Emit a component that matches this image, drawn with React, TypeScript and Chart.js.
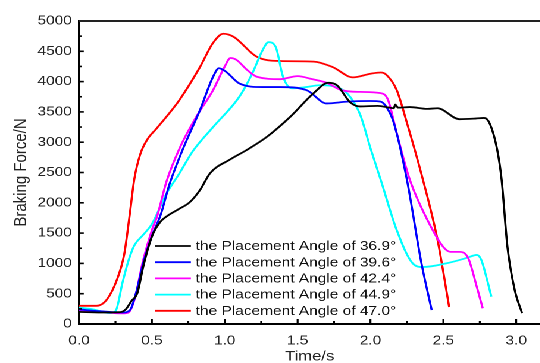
import { useEffect, useRef } from 'react';
import { Chart, registerables } from 'chart.js';

Chart.register(...registerables);

// ---- data ----
const seriesLabels = [
  'the Placement Angle of 36.9°',
  'the Placement Angle of 39.6°',
  'the Placement Angle of 42.4°',
  'the Placement Angle of 44.9°',
  'the Placement Angle of 47.0°',
];
const seriesColors = ['#000000', '#0000ff', '#ff00ff', '#00ffff', '#ff0000'];

const t369 = [0, 0.15, 0.28, 0.32, 0.36, 0.4, 0.44, 0.48, 0.51, 0.556, 0.61, 0.68, 0.76, 0.83, 0.9, 1.04, 1.15, 1.29, 1.45, 1.61, 1.71, 1.77, 1.86, 1.93, 2.05, 2.13, 2.16, 2.17, 2.19, 2.27, 2.39, 2.46, 2.61, 2.72, 2.78, 2.82, 2.87, 2.9, 2.94, 2.99, 3.04];
const f369 = [200, 190, 195, 240, 380, 510, 940, 1300, 1500, 1680, 1790, 1890, 2010, 2210, 2490, 2720, 2870, 3090, 3420, 3810, 3980, 3940, 3660, 3590, 3600, 3570, 3560, 3620, 3570, 3580, 3550, 3560, 3380, 3390, 3400, 3300, 2870, 2380, 1270, 560, 180];

const t396 = [0, 0.15, 0.3, 0.35, 0.39, 0.44, 0.5, 0.56, 0.62, 0.71, 0.83, 0.92, 0.96, 1.01, 1.1, 1.26, 1.38, 1.56, 1.7, 1.84, 2.0, 2.07, 2.11, 2.16, 2.25, 2.35, 2.42];
const f396 = [240, 210, 190, 230, 500, 1000, 1450, 1800, 2300, 2870, 3530, 4080, 4220, 4160, 3970, 3910, 3910, 3860, 3640, 3670, 3680, 3670, 3580, 3320, 2380, 1000, 230];

const t424 = [0, 0.15, 0.3, 0.34, 0.38, 0.44, 0.5, 0.535, 0.6, 0.69, 0.8, 0.92, 1.0, 1.04, 1.08, 1.15, 1.22, 1.38, 1.5, 1.6, 1.7, 1.8, 1.93, 2.07, 2.12, 2.18, 2.27, 2.39, 2.5, 2.55, 2.61, 2.67, 2.73, 2.77];
const f424 = [230, 200, 175, 190, 400, 1050, 1550, 1770, 2350, 2900, 3400, 3860, 4250, 4390, 4360, 4200, 4080, 4040, 4090, 4040, 3980, 3860, 3830, 3810, 3700, 3150, 2380, 1720, 1270, 1190, 1190, 1090, 610, 260];

const t449 = [0, 0.1, 0.21, 0.25, 0.3, 0.34, 0.38, 0.44, 0.5, 0.6, 0.69, 0.78, 0.92, 1.1, 1.19, 1.26, 1.3, 1.35, 1.4, 1.46, 1.56, 1.65, 1.79, 1.86, 1.93, 2.0, 2.07, 2.18, 2.29, 2.36, 2.52, 2.66, 2.73, 2.76, 2.8, 2.83];
const f449 = [270, 240, 180, 210, 700, 1050, 1300, 1470, 1650, 2150, 2490, 2850, 3250, 3750, 4140, 4520, 4650, 4570, 4080, 3890, 3910, 3940, 3890, 3750, 3450, 2900, 2380, 1550, 1000, 940, 1000, 1090, 1140, 1060, 730, 450];

const t470 = [0, 0.12, 0.19, 0.26, 0.31, 0.345, 0.38, 0.42, 0.47, 0.53, 0.62, 0.69, 0.83, 0.92, 0.99, 1.06, 1.22, 1.38, 1.61, 1.74, 1.88, 2.0, 2.07, 2.11, 2.18, 2.25, 2.36, 2.46, 2.54];
const f470 = [300, 300, 400, 730, 1150, 1750, 2400, 2800, 3050, 3220, 3480, 3700, 4240, 4640, 4790, 4740, 4410, 4340, 4330, 4240, 4070, 4130, 4150, 4110, 3860, 3320, 2380, 1390, 280];

const seriesTimes = [t369, t396, t424, t449, t470];
const seriesForces = [f369, f396, f424, f449, f470];

const X_MIN = 0;
const X_MAX = 3.165;
const X_STEP = 0.5;
const X_MINOR = 0.25;
const Y_MIN = 0;
const Y_MAX = 5000;
const Y_STEP = 500;
const Y_MINOR = 250;
const X_TITLE = 'Time/s';
const Y_TITLE = 'Braking Force/N';

// ---- layout ----
const STRETCH = 1.19;
const W = 454;
const H = 363;
const FONT = '"Liberation Sans", Arial, Helvetica, sans-serif';

const axisDecor = {
  id: 'axisDecor',
  afterDraw(chart: any) {
    const { ctx, chartArea, scales } = chart;
    const { left, right, top, bottom } = chartArea;
    const x = scales.x;
    const y = scales.y;
    ctx.save();
    ctx.strokeStyle = '#000';
    ctx.lineWidth = 1.6;
    const nx = Math.round((X_MAX - X_MIN) / X_MINOR);
    for (let i = 1; i <= nx; i++) {
      const v = X_MIN + i * X_MINOR;
      if (v > X_MAX + 1e-9) break;
      const major = Math.abs(v / X_STEP - Math.round(v / X_STEP)) < 1e-6;
      const px = x.getPixelForValue(v);
      ctx.beginPath();
      ctx.moveTo(px, bottom);
      ctx.lineTo(px, bottom - (major ? 5 : 3));
      ctx.stroke();
    }
    const ny = Math.round((Y_MAX - Y_MIN) / Y_MINOR);
    for (let i = 1; i <= ny; i++) {
      const v = Y_MIN + i * Y_MINOR;
      const major = Math.abs(v / Y_STEP - Math.round(v / Y_STEP)) < 1e-6;
      const py = y.getPixelForValue(v);
      ctx.beginPath();
      ctx.moveTo(left, py);
      ctx.lineTo(left + (major ? 4 : 2.5), py);
      ctx.stroke();
    }
    // top frame line
    ctx.strokeStyle = '#222';
    ctx.lineWidth = 2;
    ctx.beginPath();
    ctx.moveTo(left, top);
    ctx.lineTo(right, top);
    ctx.stroke();
    ctx.restore();
  },
};

const innerLegend = {
  id: 'innerLegend',
  afterDatasetsDraw(chart: any) {
    const { ctx, chartArea } = chart;
    const x1 = chartArea.left + 64;
    const x2 = x1 + 30;
    const tx = x2 + 4;
    const y0 = 246;
    const dy = 16.2;
    ctx.save();
    ctx.font = `13px ${FONT}`;
    ctx.textBaseline = 'middle';
    ctx.textAlign = 'left';
    chart.data.datasets.forEach((ds: any, i: number) => {
      const yy = y0 + i * dy;
      ctx.strokeStyle = ds.borderColor;
      ctx.lineWidth = 1.8;
      ctx.beginPath();
      ctx.moveTo(x1, yy);
      ctx.lineTo(x2, yy);
      ctx.stroke();
      ctx.fillStyle = '#111';
      ctx.fillText(ds.label, tx, yy + 0.5);
    });
    ctx.restore();
  },
};

export default function App() {
  const ref = useRef<HTMLCanvasElement | null>(null);

  useEffect(() => {
    if (!ref.current) return;
    const datasets = seriesLabels.map((label, i) => ({
      label,
      data: seriesTimes[i].map((t, j) => ({ x: t, y: seriesForces[i][j] })),
      borderColor: seriesColors[i],
      backgroundColor: seriesColors[i],
      borderWidth: 1.8,
      pointRadius: 0,
      cubicInterpolationMode: 'monotone' as const,
      fill: false,
    }));
    const chart = new Chart(ref.current, {
      type: 'line',
      data: { datasets },
      plugins: [axisDecor, innerLegend],
      options: {
        animation: false,
        responsive: false,
        devicePixelRatio: 2,
        layout: { padding: { top: 21, right: 0, bottom: 0, left: 0 } },
        plugins: {
          legend: { display: false },
          tooltip: { enabled: false },
        },
        scales: {
          x: {
            type: 'linear',
            min: X_MIN,
            max: X_MAX,
            afterFit: (s: any) => { s.height = 39; },
            grid: { display: false, drawTicks: false },
            border: { display: true, color: '#000', width: 2 },
            ticks: {
              stepSize: X_STEP,
              includeBounds: false,
              padding: 9,
              color: '#222',
              font: { family: FONT, size: 13 },
              callback: (v: any) => Number(v).toFixed(1),
              maxRotation: 0,
            },
            title: {
              display: true,
              text: X_TITLE,
              color: '#222',
              font: { family: FONT, size: 14 },
              padding: { top: 0, bottom: -2 },
            },
          },
          y: {
            type: 'linear',
            min: Y_MIN,
            max: Y_MAX,
            afterFit: (s: any) => { s.width = 66.4; },
            grid: { display: false, drawTicks: false },
            border: { display: true, color: '#000', width: 1.7 },
            ticks: {
              stepSize: Y_STEP,
              padding: 6,
              color: '#222',
              font: { family: FONT, size: 13 },
              callback: (v: any) => String(v),
            },
            title: {
              display: true,
              text: Y_TITLE,
              color: '#222',
              font: { family: FONT, size: 15 },
              padding: { top: 9, bottom: 0 },
            },
          },
        },
      },
    });
    return () => chart.destroy();
  }, []);

  return (
    <div
      style={{
        position: 'fixed',
        left: 0,
        top: 0,
        width: W,
        height: H,
        background: '#fff',
        transform: `scaleX(${STRETCH})`,
        transformOrigin: '0 0',
      }}
    >
      <canvas ref={ref} width={W} height={H} style={{ display: 'block', width: W, height: H }} />
    </div>
  );
}
